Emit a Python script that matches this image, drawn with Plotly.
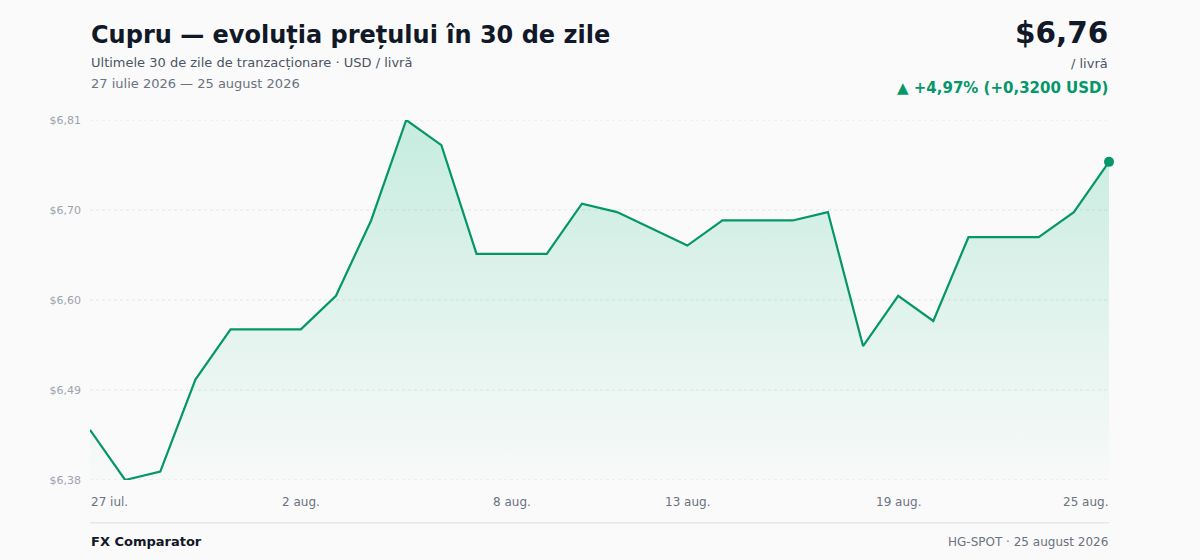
import pandas as pd
import plotly.graph_objects as go

# --- data ---
DATES = pd.date_range("2026-07-27", "2026-08-25", freq="D")
PRICES = [6.44, 6.38, 6.39, 6.50, 6.56, 6.56, 6.56, 6.60, 6.69, 6.81,
          6.78, 6.65, 6.65, 6.65, 6.71, 6.70, 6.68, 6.66, 6.69, 6.69,
          6.69, 6.70, 6.54, 6.60, 6.57, 6.67, 6.67, 6.67, 6.70, 6.76]

Y_TICKS = [6.38, 6.4875, 6.595, 6.7025, 6.81]
Y_TICK_TEXT = ["$6,38", "$6,49", "$6,60", "$6,70", "$6,81"]

X_TICKS = ["2026-07-27", "2026-08-02", "2026-08-08", "2026-08-13", "2026-08-19", "2026-08-25"]
X_TICK_TEXT = ["27 iul.", "2 aug.", "8 aug.", "13 aug.", "19 aug.", "25 aug."]

GREEN = "#059669"
FONT = "DejaVu Sans"
BG = "#fafafa"

first, last = PRICES[0], PRICES[-1]
change = last - first
pct = change / first * 100

fig = go.Figure()

# dotted grid lines (drawn as shapes so the edge ones show too)
for v in Y_TICKS:
    fig.add_shape(
        type="line", xref="paper", yref="y", x0=0, x1=1, y0=v, y1=v,
        line=dict(color="#e3e5e9", width=1, dash="dot"), layer="below",
    )

# area + line
fig.add_trace(go.Scatter(
    x=DATES,
    y=PRICES,
    mode="lines",
    line=dict(color=GREEN, width=2.2),
    fill="tozeroy",
    fillgradient=dict(
        type="vertical",
        start=Y_TICKS[0],
        stop=Y_TICKS[-1],
        colorscale=[[0, "rgba(16,185,129,0.01)"], [1, "rgba(16,185,129,0.22)"]],
    ),
    hoverinfo="skip",
    showlegend=False,
))

# last point marker
fig.add_trace(go.Scatter(
    x=[DATES[-1]],
    y=[PRICES[-1]],
    mode="markers",
    marker=dict(color=GREEN, size=10),
    cliponaxis=False,
    hoverinfo="skip",
    showlegend=False,
))

fig.update_layout(
    width=1200,
    height=560,
    margin=dict(l=90, r=91, t=120, b=80),
    paper_bgcolor=BG,
    plot_bgcolor=BG,
    font=dict(family=FONT),
    xaxis=dict(
        range=[DATES[0], DATES[-1]],
        showgrid=False,
        zeroline=False,
        showticklabels=False,
        showline=False,
    ),
    yaxis=dict(
        range=[Y_TICKS[0], Y_TICKS[-1]],
        tickvals=Y_TICKS,
        ticktext=Y_TICK_TEXT,
        showgrid=False,
        zeroline=False,
        showline=False,
        ticks="",
        ticklabelstandoff=8,
        tickfont=dict(size=11, color="#9ca3af", family=FONT),
    ),
)


def note(x, y, text, size, color, anchor, xref="paper"):
    fig.add_annotation(
        x=x, y=y, xref=xref, yref="paper", text=text, showarrow=False,
        xanchor=anchor, yanchor="middle", borderpad=0,
        font=dict(size=size, color=color, family=FONT),
    )


# x tick labels (first left aligned, last right aligned)
for i, (d, t) in enumerate(zip(X_TICKS, X_TICK_TEXT)):
    anchor = "left" if i == 0 else ("right" if i == len(X_TICKS) - 1 else "center")
    note(d, -0.061, t, 12, "#6b7280", anchor, xref="x")

# header
note(0, 1.236, "<b>Cupru — evoluția prețului în 30 de zile</b>", 24, "#111827", "left")
note(0, 1.161, "Ultimele 30 de zile de tranzacționare · USD / livră", 13, "#4b5563", "left")
note(0, 1.100, "27 iulie 2026 — 25 august 2026", 13, "#6b7280", "left")
note(1, 1.242, "<b>$" + f"{last:.2f}".replace(".", ",") + "</b>", 29.5, "#111827", "right")
note(1, 1.158, "/ livră", 13, "#4b5563", "right")
note(1, 1.089,
     "<b>▲ +" + f"{pct:.2f}".replace(".", ",") + "% (+" + f"{change:.4f}".replace(".", ",") + " USD)</b>",
     15, GREEN, "right")

# footer
fig.add_shape(
    type="line", xref="paper", yref="paper", x0=0, x1=1, y0=-0.119, y1=-0.119,
    line=dict(color="#e5e7eb", width=1.5),
)
note(0, -0.172, "<b>FX Comparator</b>", 13, "#111827", "left")
note(1, -0.172, "HG-SPOT · 25 august 2026", 12, "#6b7280", "right")

# drop the default body margin so the 1200x560 figure fills the window
fig.write_html(
    "out.html",
    config={"displayModeBar": False},
    post_script="document.body.style.margin='0';",
)
